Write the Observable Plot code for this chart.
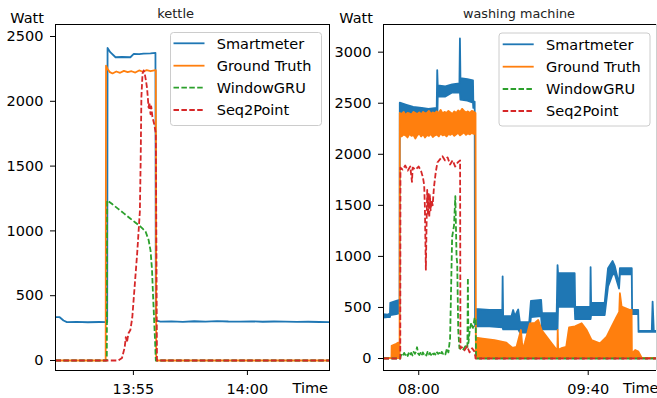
<!DOCTYPE html>
<html><head><meta charset="utf-8">
<script src="https://cdn.jsdelivr.net/npm/d3@7"></script>
<script src="https://cdn.jsdelivr.net/npm/@observablehq/plot@0.6"></script>
<style>
html,body{margin:0;padding:0;background:#fff;}
#wrap{position:relative;width:657px;height:398px;overflow:hidden;font-family:"DejaVu Sans",sans-serif;background:#fff;}
#wrap .panel{position:absolute;top:0;}
#overlay{position:absolute;left:0;top:0;pointer-events:none;}
</style></head><body><div id="wrap"></div>
<script>
// ---------------- data: kettle (clock time) ----------------
const kettleSmartTime = ["13:51:35","13:51:46","13:51:56","13:52:05","13:52:30","13:53:00","13:53:30","13:53:51","13:53:52","13:53:59","13:54:13","13:54:30","13:54:52","13:55:01","13:55:15","13:55:27","13:55:45","13:55:58","13:55:59","13:56:11","13:56:40","13:57:10","13:57:40","13:58:10","13:58:40","13:59:10","13:59:40","14:00:10","14:00:40","14:01:10","14:01:40","14:02:10","14:02:40","14:03:10","14:03:36"];
const kettleSmartWatt = [334,334,309,296,298,295,297,296,2412,2379,2340,2342,2340,2366,2364,2368,2370,2374,309,300,302,298,303,300,304,301,300,302,299,301,300,298,299,297,296];

const kettleTruthTime = ["13:51:35","13:53:47","13:53:48","13:53:52","13:53:58","13:54:05","13:54:15","13:54:25","13:54:35","13:54:45","13:54:55","13:55:05","13:55:15","13:55:25","13:55:35","13:55:45","13:55:55","13:55:59","13:56:00","14:03:36"];
const kettleTruthWatt = [0,0,2276,2250,2225,2215,2230,2220,2235,2225,2232,2222,2238,2228,2240,2232,2238,2240,0,0];

const kettleGRUTime = ["13:51:35","13:53:50","13:53:51","13:54:05","13:54:20","13:54:35","13:54:50","13:55:05","13:55:18","13:55:25","13:55:32","13:55:40","13:55:45","13:55:49","13:55:51","13:55:54","13:55:57","13:55:59","14:03:36"];
const kettleGRUWatt = [0,0,1235,1205,1170,1135,1100,1065,1035,1015,995,930,850,700,550,350,150,0,0];

const kettleS2PTime = ["13:51:35","13:54:20","13:54:30","13:54:37","13:54:40","13:54:43","13:54:47","13:54:52","13:54:57","13:55:04","13:55:10","13:55:17","13:55:19","13:55:21","13:55:24","13:55:27","13:55:30","13:55:33","13:55:36","13:55:40","13:55:42","13:55:45","13:55:47","13:55:50","13:55:55","13:55:59","13:56:02","14:03:36"];
const kettleS2PWatt = [0,0,20,100,180,140,210,235,330,600,830,1150,1520,2032,2214,2238,2210,2160,2100,1950,1990,1900,1960,1880,1820,1750,0,0];

// ---------------- data: washing machine (minutes after 08:00) ----------------
const washSmartMin = [-20.8,-18,-16.7,-16.5,-13,-11,-10.9,-7,-3,2,6,10.9,11.2,11.5,16,20,24.3,24.6,24.9,29,32.3,32.5,33.3,33.5,42,49.6,49.8,50.1,55,56,57,59,60,65.5,66.5,72.5,73,81.7,82.2,82.5,92.3,92.6,101.5,101.7,102,110,112,114.7,116,118.5,119,126,126.2,129.8,130,137.8,138.3,139,140.3];
const washSmartLo  = [395,400,400,420,430,440,2300,2300,2300,2300,2300,2300,2300,2560,2560,2600,2600,2600,2530,2520,2500,2450,2450,310,310,300,300,280,280,280,280,280,250,250,400,410,280,280,280,500,500,380,380,380,420,420,700,820,820,680,820,820,430,430,255,255,255,255,255];
const washSmartHi  = [430,425,435,540,560,570,2500,2480,2460,2450,2440,2450,2820,2670,2660,2680,2690,3130,2740,2730,2720,2510,2510,480,470,470,800,410,410,470,410,475,350,350,560,570,440,440,910,830,830,500,500,890,540,540,880,950,900,720,880,880,470,470,265,265,553,265,265];

const washTruthMin = [-20.8,-15.8,-15.7,-13,-11,
  -10.9,-9.8,-8.6,-7.5,-6.3,-5.2,-4,-2.9,-1.7,-0.6,0.6,1.7,2.9,4,5.2,6.3,7.5,8.6,9.8,10.9,12.1,13.2,14.4,15.5,16.7,17.8,19,20.1,21.3,22.4,23.6,24.7,25.9,27,28.2,29.3,30.5,31.6,32.8,33.8,
  34,38,45,52,55.5,58,60.6,61.6,62.9,63.9,65.9,68.9,70.8,72.8,75.7,78.7,81.7,82.1,82.3,82.6,85,87.3,89,92.5,96.4,99.4,102.3,107.2,111.2,114.1,117.1,118.6,119,120,125,125.9,126.1,127,128,129.9,131.9,140.3];
const washTruthLo  = [0,0,0,0,0,
  2200,2170,2190,2180,2160,2195,2175,2185,2150,2180,2200,2170,2190,2160,2185,2175,2195,2165,2180,2190,2170,2200,2180,2190,2170,2195,2185,2200,2175,2190,2205,2180,2195,2210,2185,2200,2190,2205,2195,2200,
  0,0,0,0,0,0,0,0,0,0,0,0,0,0,0,0,0,0,0,0,0,0,0,0,0,0,0,0,0,0,0,0,0,0,0,0,0,0,0,0,0,0];
const washTruthHi  = [0,0,120,140,160,
  2400,2390,2410,2380,2400,2395,2385,2410,2400,2390,2405,2385,2410,2395,2400,2420,2390,2405,2395,2415,2400,2430,2395,2410,2400,2420,2405,2390,2415,2400,2425,2410,2440,2420,2405,2415,2400,2420,2410,2400,
  200,190,175,150,100,110,274,80,150,210,340,345,372,274,210,145,80,80,274,80,100,110,300,310,340,274,176,144,209,307,405,450,634,503,470,470,0,60,78,62,0,0];

const washGRUMin  = [-20.8,-10.9,-10.7,-10,-9.3,-8.6,-7.9,-7.2,-6.5,-5.8,-5.1,-4.4,-3.7,-3,-2.3,-1.6,-1,-0.4,0.3,1,1.7,2.4,3.1,3.8,4.5,5.2,5.9,6.6,7.3,8,8.7,9.4,10.1,10.8,11.5,12.2,12.9,13.6,14.3,15,15.7,16.7,17.5,18.5,19.7,20.8,21.6,22.3,22.7,23.3,24,26,27.5,28.7,29,29.3,30.1,31,32,33,33.6,33.8,140.3];
const washGRUWatt = [0,0,20,45,30,55,35,50,25,60,40,55,30,65,45,70,110,50,35,55,30,60,40,50,30,65,40,55,35,60,40,50,30,60,45,55,35,65,45,55,40,100,60,200,1190,1300,1590,1000,930,280,100,80,120,100,790,150,280,350,300,400,380,0,0];

const washS2PMin  = [-20.8,-10.9,-10.8,-9.5,-8,-6.5,-5,-4,-3.6,-2,0,1.5,2.5,3.2,3.6,4.2,4.6,5.0,5.4,5.8,6.2,6.6,7.0,7.6,8.2,9,10,11,12.5,14,15.5,17,18.5,20,21.5,23,24.4,24.6,25.5,27,28.5,30,31.5,32.8,33.4,33.5,140.3];
const washS2PWatt = [0,0,1870,1850,1890,1840,1880,1730,1870,1850,1880,1830,1770,1700,1500,870,1300,1650,1400,1620,1380,1600,1450,1550,1500,1680,1820,1920,1950,1980,1940,1970,1900,1940,1880,1920,1940,100,110,80,120,60,100,70,20,0,0];

// ---------------- axis ticks ----------------
const kettleYTicks = [0,500,1000,1500,2000,2500];
const kettleXTicks = ["13:55:00","14:00:00"];
const washYTicks = [0,500,1000,1500,2000,2500,3000];
const washXTicks = ["08:00:00","09:40:00"];
const seriesNames = ["Smartmeter","Ground Truth","WindowGRU","Seq2Point"];
const seriesColors = ["#1f77b4","#ff7f0e","#2ca02c","#d62728"];
const seriesDashed = [false,false,true,true];

// ---------------- build ----------------
const parseT = d3.utcParse("%H:%M:%S");
const base = parseT("08:00:00");
const wm = m => new Date(base.getTime() + m*60000);
const zipT = (ts, vs) => ts.map((t,i)=>({t:parseT(t), v:vs[i]}));
const zipM = (ms, vs) => ms.map((m,i)=>({t:wm(m), v:vs[i]}));
const zipBand = (ms, lo, hi) => ms.map((m,i)=>({t:wm(m), lo:lo[i], hi:hi[i]}));
const LW = 1.8;
const dash = "5.5,2.4";
const solid = (data,c)=>Plot.lineY(data,{x:"t",y:"v",stroke:c,strokeWidth:LW,clip:true});
const dashed = (data,c)=>Plot.lineY(data,{x:"t",y:"v",stroke:c,strokeWidth:LW,strokeDasharray:dash,strokeLinecap:"butt",clip:true});
const styleObj = {background:"transparent",color:"black",fontFamily:"DejaVu Sans",overflow:"visible"};
const numFmt = d3.format("d");

const left = Plot.plot({
  width:330, height:398, marginLeft:55, marginRight:1, marginTop:24, marginBottom:28,
  style:styleObj,
  x:{type:"utc", domain:[parseT("13:51:35"), parseT("14:03:36")]},
  y:{domain:[-77.2, 2592.6]},
  marks:[
    Plot.axisX({ticks:kettleXTicks.map(parseT), tickFormat:d3.utcFormat("%H:%M"), tickSize:5, tickPadding:8, fontSize:14.5, label:null}),
    Plot.axisY({ticks:kettleYTicks, tickFormat:numFmt, tickSize:5, tickPadding:7, fontSize:14.5, label:null}),
    solid(zipT(kettleSmartTime,kettleSmartWatt), seriesColors[0]),
    solid(zipT(kettleTruthTime,kettleTruthWatt), seriesColors[1]),
    dashed(zipT(kettleGRUTime,kettleGRUWatt), seriesColors[2]),
    dashed(zipT(kettleS2PTime,kettleS2PWatt), seriesColors[3]),
    Plot.frame({stroke:"black"})
  ]
});
left.classList.add("panel"); left.style.left="0px";

const wDom = [wm(-20.8), wm(140.3)], wY = [-117.5, 3271];
const right = Plot.plot({
  width:327, height:398, marginLeft:53, marginRight:1, marginTop:24, marginBottom:28,
  style:styleObj,
  x:{type:"utc", domain:wDom},
  y:{domain:wY},
  marks:[
    Plot.axisX({ticks:washXTicks.map(parseT), tickFormat:d3.utcFormat("%H:%M"), tickSize:5, tickPadding:8, fontSize:14.5, label:null}),
    Plot.axisY({ticks:washYTicks, tickFormat:numFmt, tickSize:5, tickPadding:7, fontSize:14.5, label:null}),
    Plot.areaY(zipBand(washSmartMin,washSmartLo,washSmartHi),{x:"t",y1:"lo",y2:"hi",fill:seriesColors[0],stroke:seriesColors[0],strokeWidth:LW,strokeLinejoin:"round",clip:true}),
    Plot.areaY(zipBand(washTruthMin,washTruthLo,washTruthHi),{x:"t",y1:"lo",y2:"hi",fill:seriesColors[1],stroke:seriesColors[1],strokeWidth:LW,strokeLinejoin:"round",clip:true}),
    dashed(zipM(washGRUMin,washGRUWatt), seriesColors[2]),
    dashed(zipM(washS2PMin,washS2PWatt), seriesColors[3]),
    Plot.ruleX([wDom[1]],{stroke:"#cfcfcf"}),
    Plot.ruleX([wDom[0]],{stroke:"black"}),
    Plot.ruleY([wY[0], wY[1]],{stroke:"black"})
  ]
});
right.classList.add("panel"); right.style.left="330px";

const wrap = document.getElementById("wrap");
wrap.appendChild(left); wrap.appendChild(right);

// overlay: titles, axis labels, legends
function legend(x0,y0,lx,tx,rows){
  let s = `<rect x="${x0}" y="${y0}" width="151" height="93" rx="3" fill="white" fill-opacity="0.8" stroke="#cccccc" stroke-width="1"/>`;
  seriesNames.forEach((n,i)=>{
    const cy = rows[i];
    s += `<line x1="${lx}" x2="${lx+31}" y1="${cy}" y2="${cy}" stroke="${seriesColors[i]}" stroke-width="${LW}" ${seriesDashed[i]?`stroke-dasharray="${dash}"`:""}/>`;
    s += `<text x="${tx}" y="${cy}" dy="0.36em" font-size="14.5">${n}</text>`;
  });
  return s;
}
const ov = `<svg id="overlay" width="657" height="398" font-family="DejaVu Sans" fill="black">
<text x="175.6" y="18.3" text-anchor="middle" font-size="13" fill="#222">kettle</text>
<text x="519" y="18" text-anchor="middle" font-size="12.8" fill="#222">washing machine</text>
<text x="44" y="22.7" text-anchor="end" font-size="14.5">Watt</text>
<text x="373" y="22.7" text-anchor="end" font-size="14.5">Watt</text>
<text x="328" y="393" text-anchor="end" font-size="14.5">Time</text>
<text x="623" y="393" text-anchor="start" font-size="14.5">Time</text>
${legend(170.5,32.5,173.5,216.7,[43.3,65.7,87.7,110])}
${legend(499,33,502.7,546,[44.3,66.7,89,111])}
</svg>`;
wrap.insertAdjacentHTML("beforeend", ov);
</script></body></html>
